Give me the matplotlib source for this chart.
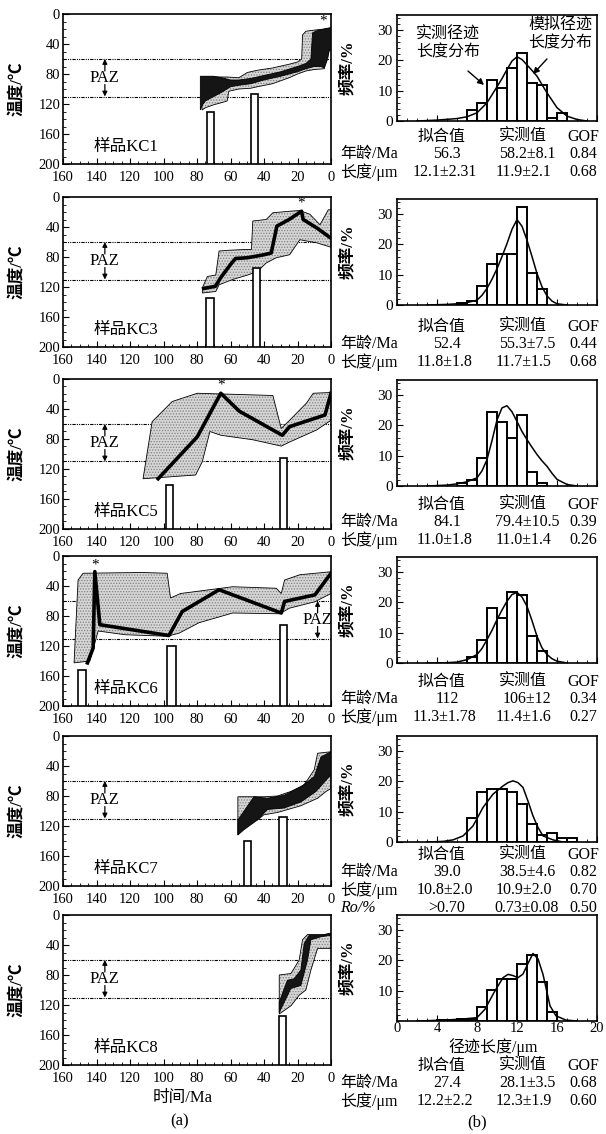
import numpy as np
import matplotlib.pyplot as plt
from matplotlib.ticker import MultipleLocator

plt.rcParams['font.family'] = ['Liberation Serif', 'Noto Sans CJK SC']
plt.rcParams['font.size'] = 11
plt.rcParams['axes.linewidth'] = 1.2
plt.rcParams['hatch.linewidth'] = 0.6

W, H = 606, 1134

samples = ['KC1', 'KC3', 'KC5', 'KC6', 'KC7', 'KC8']

# ---- thermal history (age Ma, temperature C), polygons traced top then bottom
kc1_outer = [(77, 84), (72, 84), (62, 84), (55, 85), (50, 78), (44, 75), (35, 72), (25, 67), (20, 64),
             (17.5, 60), (17, 28), (15, 23), (12, 22), (8, 21), (4, 20), (0, 19),
             (0, 48), (1, 48), (3, 60), (4, 73), (10, 74), (15, 76), (20, 80), (25, 85), (35, 93),
             (44, 97), (48, 99), (55, 100), (61, 103), (62, 116), (65, 118), (70, 121), (75, 125), (77, 128)]
kc1_inner = [(78, 83), (70, 83), (65, 85), (60, 88), (55, 88), (48, 86), (40, 82), (30, 77), (20, 70),
             (15, 66), (12, 60), (11, 25), (8, 22), (4, 20), (0, 18),
             (0, 48), (1, 48), (2, 60), (4, 72), (6, 70), (10, 70), (15, 73), (20, 77), (30, 83), (40, 88),
             (48, 93), (55, 95), (60, 97), (65, 104), (70, 110), (75, 116), (77, 122), (78, 128)]
kc3_outer = [(76.8, 121), (73.8, 106), (68.8, 104), (66.8, 72), (60.8, 71), (51.7, 70), (47.5, 70),
             (46.7, 32), (38.7, 30), (34.7, 21), (24.7, 19), (18.6, 18), (12.6, 23), (6.6, 37), (1.6, 17), (0, 17),
             (0, 67), (8.6, 61), (18.6, 57), (24.7, 77), (32.7, 81), (38.7, 88), (43.7, 99), (49.7, 104),
             (58.7, 110), (66.8, 117), (68.8, 126), (76.8, 128)]
kc3_line = [(76, 122), (69, 119), (66, 108), (60, 90), (57, 82), (50, 81), (45, 79), (40, 77), (35.7, 74.6),
            (32.3, 38.8), (25, 30), (17.6, 19), (16.6, 30), (8, 42), (0, 55)]
kc5_outer = [(112.2, 133), (106.8, 57), (94.8, 30), (79.8, 19), (34.7, 22), (29.7, 66), (24.7, 55),
             (14.6, 32), (10.6, 19), (0, 18),
             (0, 55), (8.6, 68), (24.7, 84), (29.7, 89.5), (46.7, 81), (65.8, 75), (72.3, 70), (76.8, 110),
             (80.8, 128), (112.2, 133)]
kc5_line = [(103.2, 133), (79.8, 77), (65.8, 19), (54.7, 43), (29.1, 75), (24.7, 63.5), (3.6, 48), (0, 19)]
kc6_outer = [(153.4, 142.5), (151, 32), (148, 23), (112.9, 22), (97.8, 23), (95.8, 56), (89.8, 50),
             (58.7, 41), (32.7, 43), (29.7, 50), (27.7, 32), (18.6, 25), (0, 21),
             (0, 50), (9.6, 61), (24.7, 69.5), (30.7, 77), (58.7, 76), (78.8, 89), (90.8, 103), (97.8, 107),
             (122.9, 105), (139, 100), (144, 140), (153.4, 142.5)]
kc6_line = [(145.4, 142.5), (142, 122.6), (141, 20.8), (138, 91.6), (96.8, 106), (88.8, 74), (66.8, 45),
            (29.7, 76), (27.7, 60.6), (9.6, 51.8), (0, 23)]
kc7_outer = [(55.6, 81), (40, 81), (32, 80), (24, 74), (16, 65), (10, 45), (8, 23), (0, 21),
             (0, 70), (3, 74), (8, 83), (18, 93), (32, 102), (40, 105), (44, 112), (50, 112), (55.6, 132)]
kc7_inner = [(55.6, 112), (50, 94), (46, 81), (38, 83), (28, 79), (18, 68), (10, 54), (6, 28), (0, 21),
             (0, 52), (3, 59), (9, 74), (18, 88), (28, 96), (38, 98), (44, 112), (52, 125), (55.6, 132)]
kc8_outer = [(30.9, 80), (23.9, 78), (19, 60), (17, 33), (14, 26), (4, 26), (0, 24),
             (0, 44.5), (8, 44.5), (12, 73.5), (15, 100), (19, 107), (23.9, 121), (30.9, 132)]
kc8_inner = [(30.9, 116), (26, 87), (22, 85), (18, 73.5), (16, 38), (13, 27), (6, 27), (0, 25),
             (0, 27), (6, 29), (12, 33), (14, 60), (18, 94), (24, 98), (30.9, 130)]

outers = [kc1_outer, kc3_outer, kc5_outer, kc6_outer, kc7_outer, kc8_outer]
inners = [kc1_inner, None, None, None, kc7_inner, kc8_inner]
lines = [None, kc3_line, kc5_line, kc6_line, None, None]

# age bars: (young age, old age, top temperature)
kc1_bars = [(70, 74, 130), (43.5, 48, 106)]
kc3_bars = [(69.8, 74.8, 135), (42.3, 46.7, 95)]
kc5_bars = [(94.4, 98.8, 141), (26.3, 30.7, 105)]
kc6_bars = [(146.5, 151.3, 152), (92.8, 97.8, 119.5), (26.3, 30.7, 91.6)]
kc7_bars = [(47.6, 52, 139.6), (26.4, 31, 107.6)]
kc8_bars = [(26.9, 31.3, 134)]
age_bars = [kc1_bars, kc3_bars, kc5_bars, kc6_bars, kc7_bars, kc8_bars]

stars = [(4.6, 10), (17.6, 8), (65.8, 8), (141, 12), None, None]
paz_x = [135, 135, 135, 8, 135, 135]
paz_top, paz_bot = 60, 110

# ---- track length histograms (bin start um, frequency %)
kc1_bin = [7, 8, 9, 10, 11, 12, 13, 14, 15, 16]
kc1_freq = [3.6, 6, 13.4, 11, 17.6, 22.5, 12.4, 11.8, 1.1, 2.7]
kc3_bin = [6, 7, 8, 9, 10, 11, 12, 13, 14]
kc3_freq = [0.5, 1.3, 6.4, 13.5, 16.7, 16.7, 32.4, 10.7, 5.4]
kc5_bin = [6, 7, 8, 9, 10, 11, 12, 13, 14]
kc5_freq = [1, 2, 9.3, 24.3, 21, 16, 23.4, 4.6, 1.1]
kc6_bin = [7, 8, 9, 10, 11, 12, 13, 14]
kc6_freq = [2, 7.5, 18.2, 14.7, 23.5, 22.6, 9, 3.9]
kc7_bin = [7, 8, 9, 10, 11, 12, 13, 14, 15, 16, 17]
kc7_freq = [7.9, 16.5, 17.4, 17.4, 16.5, 12.7, 6, 2.2, 3.1, 1.2, 1.2]
kc8_bin = [4, 5, 6, 7, 8, 9, 10, 11, 12, 13, 14, 15]
kc8_freq = [0.3, 0.3, 0.5, 0.8, 4.6, 10.1, 14, 14, 18.7, 21.7, 13, 3.1]

# modelled length distribution curves
kc1_cx = [2, 4, 6, 7, 8, 9, 10, 10.5, 11, 11.5, 12, 12.5, 13, 13.5, 14, 14.5, 15, 16, 17, 18, 19]
kc1_cy = [0, 0.3, 0.8, 1.4, 2.7, 6, 11.3, 14, 17, 19.8, 21.2, 20.3, 18.5, 16.7, 14.8, 12, 9.3, 4.4, 1.6, 0.5, 0]
kc3_cx = [3, 5, 6, 7, 8, 8.5, 9, 9.5, 10, 10.5, 11, 11.5, 12, 12.5, 13, 13.5, 14, 14.5, 15, 15.5, 16, 17]
kc3_cy = [0, 0.2, 0.4, 0.8, 1.6, 3.2, 5.5, 8.5, 12, 16, 20.3, 25, 28.2, 26, 21.4, 16, 10.4, 6, 3, 1.3, 0.4, 0]
kc5_cx = [3, 5, 6, 7, 8, 8.5, 9, 9.5, 10, 10.5, 11, 11.5, 12, 12.5, 13, 13.5, 14, 14.5, 15, 15.5, 16, 17, 18]
kc5_cy = [0, 0.3, 0.7, 1.4, 2.7, 5, 8.7, 15, 21.8, 25.8, 26.5, 24.5, 21.3, 18, 15.3, 12.8, 10.4, 8.3, 6.5, 4.2, 2.2, 0.5, 0]
kc6_cx = [3, 5, 6, 7, 8, 8.5, 9, 9.5, 10, 10.5, 11, 11.5, 12, 12.5, 13, 13.5, 14, 14.5, 15, 15.5, 16, 17]
kc6_cy = [0, 0.1, 0.3, 1.1, 2.8, 4.8, 7.7, 10.8, 14.3, 17.5, 20.4, 22.6, 23.3, 21.8, 18.7, 14, 8.8, 5, 2.8, 1.4, 0.6, 0]
kc7_cx = [3, 4.6, 5.6, 6.6, 7.6, 8.6, 9.6, 10.6, 11.1, 11.6, 12.1, 12.6, 13.1, 13.6, 14.1, 14.6, 15.6, 16.6]
kc7_cy = [0, 0.2, 0.7, 2, 5.3, 11.4, 15.8, 18.5, 19.6, 20.2, 19.6, 18, 13.5, 8.6, 4.8, 2, 0.7, 0]
kc8_cx = [2, 4.7, 6.4, 8.0, 8.8, 9.7, 10.6, 11.1, 11.6, 12.1, 12.6, 13.1, 13.6, 14.1, 14.6, 15.3, 15.9, 16.9, 18]
kc8_cy = [0, 0.3, 0.6, 1.1, 3.9, 9.4, 14.3, 15.4, 15, 14.3, 15.5, 19, 22.3, 20.5, 15.4, 5, 1.7, 0.3, 0]

bins = [kc1_bin, kc3_bin, kc5_bin, kc6_bin, kc7_bin, kc8_bin]
freqs = [kc1_freq, kc3_freq, kc5_freq, kc6_freq, kc7_freq, kc8_freq]
curves = [(kc1_cx, kc1_cy), (kc3_cx, kc3_cy), (kc5_cx, kc5_cy), (kc6_cx, kc6_cy), (kc7_cx, kc7_cy), (kc8_cx, kc8_cy)]

# ---- fit table
fit_age = ['56.3', '52.4', '84.1', '112', '39.0', '27.4']
obs_age = ['58.2±8.1', '55.3±7.5', '79.4±10.5', '106±12', '38.5±4.6', '28.1±3.5']
gof_age = ['0.84', '0.44', '0.39', '0.34', '0.82', '0.68']
fit_len = ['12.1±2.31', '11.8±1.8', '11.0±1.8', '11.3±1.78', '10.8±2.0', '12.2±2.2']
obs_len = ['11.9±2.1', '11.7±1.5', '11.0±1.4', '11.4±1.6', '10.9±2.0', '12.3±1.9']
gof_len = ['0.68', '0.68', '0.26', '0.27', '0.70', '0.60']
ro_row = ['>0.70', '0.73±0.08', '0.50']

# layout in pixels
left_tops = [14, 197, 379, 556, 736, 915]
right_tops = [15, 199, 380, 557, 736, 915]
head_y = [137, 327, 505, 682, 855, 1066]


def box(l, t, w, h):
    return [l / W, 1 - (t + h) / H, w / W, h / H]


def ftext(x, y, s, **kw):
    kw.setdefault('va', 'center')
    fig.text(x / W, 1 - y / H, s, **kw)


arrow_kw = dict(arrowstyle='-|>', color='black', lw=0.9, mutation_scale=7, shrinkA=0, shrinkB=0)

fig = plt.figure(figsize=(W / 100, H / 100), dpi=100)

for i, name in enumerate(samples):
    # ---------------- left: thermal history
    ax = fig.add_axes(box(63, left_tops[i], 268, 150))
    poly = np.array(outers[i])
    ax.fill(poly[:, 0], poly[:, 1], facecolor='#d6d6d6', edgecolor='#808080', lw=0, hatch='......', zorder=2)
    ax.fill(poly[:, 0], poly[:, 1], facecolor='none', edgecolor='black', lw=0.6, zorder=2)
    if inners[i] is not None:
        p2 = np.array(inners[i])
        ax.fill(p2[:, 0], p2[:, 1], facecolor='#151515', edgecolor='black', lw=0.6, zorder=3)
    if lines[i] is not None:
        ln = np.array(lines[i])
        ax.plot(ln[:, 0], ln[:, 1], color='black', lw=2.6, zorder=4)
    for young, old, top in age_bars[i]:
        ax.bar(young, 200 - top, width=old - young, bottom=top, align='edge',
               facecolor='white', edgecolor='black', lw=1.2, zorder=5)
    if stars[i] is not None:
        ax.text(stars[i][0], stars[i][1], '*', ha='center', va='center', fontsize=11)
    ax.axhline(paz_top, color='black', lw=0.8, ls=(0, (3, 1, 1, 1, 1, 1)), zorder=1)
    ax.axhline(paz_bot, color='black', lw=0.8, ls=(0, (3, 1, 1, 1, 1, 1)), zorder=1)
    px = paz_x[i]
    ax.text(px, 85, 'PAZ', ha='center', va='center', fontsize=12, zorder=6)
    ax.annotate('', xy=(px, paz_top), xytext=(px, 76), arrowprops=arrow_kw)
    ax.annotate('', xy=(px, paz_bot), xytext=(px, 94), arrowprops=arrow_kw)
    ax.text(142, 177, '样品' + name, ha='left', va='center', fontsize=12)
    ax.set_xlim(160, 0)
    ax.set_ylim(200, 0)
    ax.xaxis.set_major_locator(MultipleLocator(20))
    ax.xaxis.set_minor_locator(MultipleLocator(5))
    ax.yaxis.set_major_locator(MultipleLocator(40))
    ax.yaxis.set_minor_locator(MultipleLocator(10))
    ax.tick_params(which='both', direction='in', labelsize=10.5, pad=2)
    ax.tick_params(axis='x', pad=5)
    ax.tick_params(which='major', length=4)
    ax.tick_params(which='minor', length=2.5)
    ax.set_ylabel('温度/℃', fontsize=12, fontweight='bold')
    ax.yaxis.set_label_coords(-0.142, 0.5)

    # ---------------- right: length histogram
    bx = fig.add_axes(box(397, right_tops[i], 200, 106))
    bx.bar(bins[i], freqs[i], width=1, align='edge', facecolor='white', edgecolor='black', lw=1.4)
    bx.plot(curves[i][0], curves[i][1], color='black', lw=1.1)
    bx.set_xlim(0, 20)
    bx.set_ylim(0, 35)
    bx.xaxis.set_major_locator(MultipleLocator(4))
    bx.xaxis.set_minor_locator(MultipleLocator(1))
    bx.yaxis.set_major_locator(MultipleLocator(10))
    bx.yaxis.set_minor_locator(MultipleLocator(2))
    bx.tick_params(which='both', direction='in', labelsize=11, pad=3)
    bx.tick_params(which='major', length=4)
    bx.tick_params(which='minor', length=2.5)
    bx.set_ylabel('频率/%', fontsize=12, fontweight='bold')
    bx.yaxis.set_label_coords(-0.205, 0.5)
    if i < 5:
        bx.tick_params(axis='x', labelbottom=False)
    else:
        bx.set_yticks([10, 20, 30])
        bx.tick_params(axis='x', pad=1, labelsize=10.5)
        ftext(493, 1047, '径迹长度/μm', ha='center', fontsize=11.5)

    y0 = head_y[i]
    ftext(442, y0, '拟合值', ha='center', fontsize=11.5)
    ftext(523, y0, '实测值', ha='center', fontsize=11.5)
    ftext(583, y0, 'GOF', ha='center', fontsize=11.5)
    ftext(340, y0 + 17, '年龄/Ma', ha='left', fontsize=11.5)
    ftext(447, y0 + 17, fit_age[i], ha='center', fontsize=11.5)
    ftext(527, y0 + 17, obs_age[i], ha='center', fontsize=11.5)
    ftext(583, y0 + 17, gof_age[i], ha='center', fontsize=11.5)
    ftext(340, y0 + 35, '长度/μm', ha='left', fontsize=11.5)
    ftext(445, y0 + 35, fit_len[i], ha='center', fontsize=11.5)
    ftext(524, y0 + 35, obs_len[i], ha='center', fontsize=11.5)
    ftext(583, y0 + 35, gof_len[i], ha='center', fontsize=11.5)
    if name == 'KC7':
        ftext(340, y0 + 53, 'Ro/%', ha='left', fontsize=11.5, style='italic')
        ftext(447, y0 + 53, ro_row[0], ha='center', fontsize=11.5)
        ftext(527, y0 + 53, ro_row[1], ha='center', fontsize=11.5)
        ftext(583, y0 + 53, ro_row[2], ha='center', fontsize=11.5)

    if i == 0:
        bx.text(5.1, 25.5, '实测径迹\n长度分布', ha='center', va='center', fontsize=11.5, linespacing=1.2)
        bx.text(16.3, 28.5, '模拟径迹\n长度分布', ha='center', va='center', fontsize=11.5,
                linespacing=1.2, clip_on=False)
        bx.annotate('', xy=(8.7, 11.9), xytext=(7.1, 16.5),
                    arrowprops=dict(arrowstyle='-|>', color='black', lw=1, mutation_scale=9,
                                    shrinkA=0, shrinkB=0))
        bx.annotate('', xy=(13.6, 15.5), xytext=(15.0, 20.5),
                    arrowprops=dict(arrowstyle='-|>', color='black', lw=1, mutation_scale=9,
                                    shrinkA=0, shrinkB=0))

ftext(183, 1098, '时间/Ma', ha='center', fontsize=12)
ftext(180, 1121, '(a)', ha='center', fontsize=12)
ftext(477, 1122, '(b)', ha='center', fontsize=12)

fig.savefig('out.png', dpi=100)
